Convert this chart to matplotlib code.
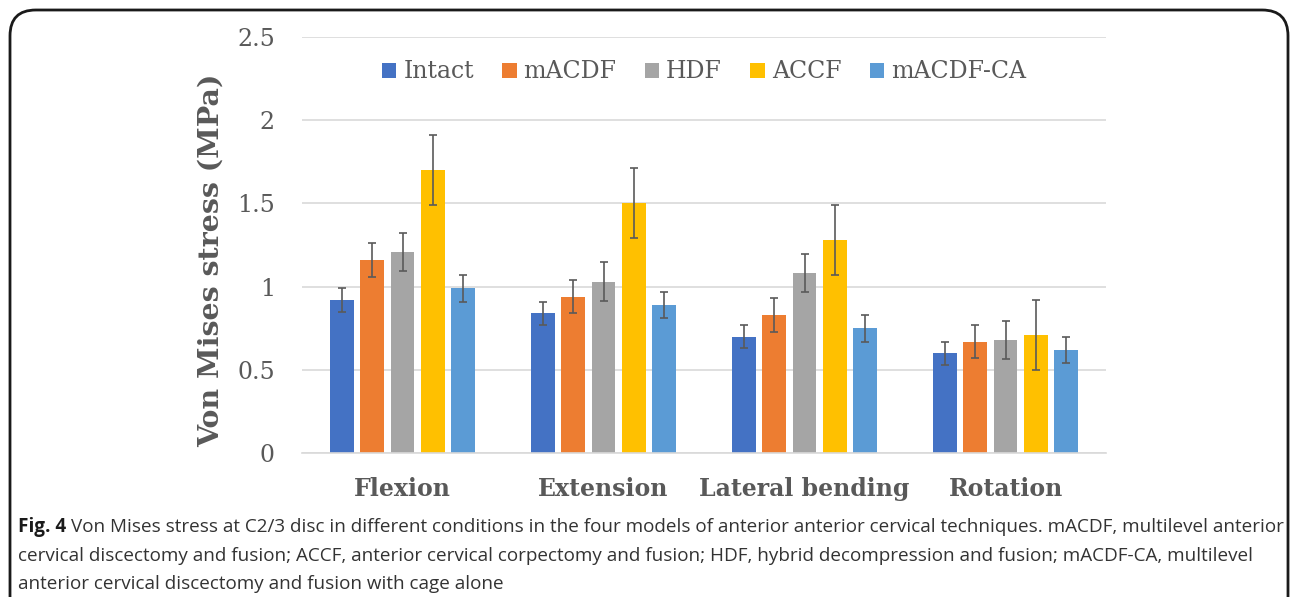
import matplotlib
matplotlib.use("Agg")
import matplotlib.pyplot as plt
import numpy as np
from matplotlib.patches import FancyBboxPatch

categories = ["Flexion", "Extension", "Lateral bending", "Rotation"]
series = ["Intact", "mACDF", "HDF", "ACCF", "mACDF-CA"]
intact = [0.92, 0.84, 0.70, 0.60]
macdf = [1.16, 0.94, 0.83, 0.67]
hdf = [1.21, 1.03, 1.08, 0.68]
accf = [1.70, 1.50, 1.28, 0.71]
macdf_ca = [0.99, 0.89, 0.75, 0.62]
err_intact = [0.07, 0.07, 0.07, 0.07]
err_macdf = [0.10, 0.10, 0.10, 0.10]
err_hdf = [0.115, 0.115, 0.115, 0.115]
err_accf = [0.21, 0.21, 0.21, 0.21]
err_macdf_ca = [0.08, 0.08, 0.08, 0.08]
colors = ["#4472C4", "#ED7D31", "#A5A5A5", "#FFC000", "#5B9BD5"]
yticks = [0, 0.5, 1, 1.5, 2, 2.5]
ytick_labels = ["0", "0.5", "1", "1.5", "2", "2.5"]

values = [intact, macdf, hdf, accf, macdf_ca]
errors = [err_intact, err_macdf, err_hdf, err_accf, err_macdf_ca]

W, H = 1292, 597
fig = plt.figure(figsize=(W / 100, H / 100), dpi=100)
ax = fig.add_axes([302 / W, 1 - 453 / H, (1106 - 302) / W, (453 - 37) / H])

serif = ["DejaVu Serif"]
txtc = "#595959"
x = np.arange(len(categories))
pitch = 0.151
bw = 0.119
for i, (s, v, e, c) in enumerate(zip(series, values, errors, colors)):
    ax.bar(x + (i - 2) * pitch, v, bw, color=c, label=s, zorder=2,
           yerr=e, error_kw=dict(ecolor="#5a5a5a", elinewidth=1.2, capsize=3, capthick=1.2, zorder=3))

ax.set_xlim(-0.5, len(categories) - 0.5)
ax.set_ylim(0, 2.5)
ax.set_yticks(yticks)
ax.set_yticklabels(ytick_labels, family=serif, fontsize=17, color=txtc)
ax.set_xticks(x)
ax.set_xticklabels(categories, family=serif, fontsize=17, fontweight="bold", color=txtc)
ax.tick_params(axis="both", length=0)
ax.tick_params(axis="y", pad=19.5)
ax.tick_params(axis="x", pad=17)
ax.yaxis.grid(True, color="#d9d9d9", linewidth=1.2, zorder=0)
ax.set_axisbelow(True)
for sp in ["top", "right", "left"]:
    ax.spines[sp].set_visible(False)
ax.spines["bottom"].set_color("#d9d9d9")
ax.spines["bottom"].set_linewidth(1.2)

ax.set_ylabel("Von Mises stress (MPa)", family=serif, fontsize=20.5, fontweight="bold", color=txtc, labelpad=9)
ax.yaxis.label.set_y(0.5 - 15 / 416)

leg = ax.legend(loc="upper center", bbox_to_anchor=(0.5, 0.995), ncol=5, frameon=False,
                prop=dict(family=serif, size=17), handlelength=0.6, handleheight=0.6,
                handletextpad=0.3, columnspacing=1.2)
for t in leg.get_texts():
    t.set_color(txtc)

# border
box = FancyBboxPatch((10 / W, -0.1), (1288 - 10) / W, (1 - 10 / H) + 0.1,
                     boxstyle="round,pad=0,rounding_size=0.02", transform=fig.transFigure,
                     fill=False, edgecolor="#1a1a1a", linewidth=2, mutation_aspect=W / H)
fig.patches.append(box)

# caption
cap_font = ["Open Sans", "DejaVu Sans"]
cs = 13.55
y1 = 1 - 527 / H
t0 = fig.text(18 / W, y1, "Fig. 4", family=cap_font, fontsize=cs, fontweight="bold", color="#1a1a1a", va="center")
fig.canvas.draw()
bb = t0.get_window_extent()
fig.text((bb.x1 + 5) / W, y1,
         "Von Mises stress at C2/3 disc in different conditions in the four models of anterior anterior cervical techniques. mACDF, multilevel anterior",
         family=cap_font, fontsize=cs, color="#333333", va="center")
fig.text(18 / W, 1 - 556 / H,
         "cervical discectomy and fusion; ACCF, anterior cervical corpectomy and fusion; HDF, hybrid decompression and fusion; mACDF-CA, multilevel",
         family=cap_font, fontsize=cs, color="#333333", va="center")
fig.text(18 / W, 1 - 584 / H, "anterior cervical discectomy and fusion with cage alone",
         family=cap_font, fontsize=cs, color="#333333", va="center")

fig.savefig("out.png", dpi=100)
